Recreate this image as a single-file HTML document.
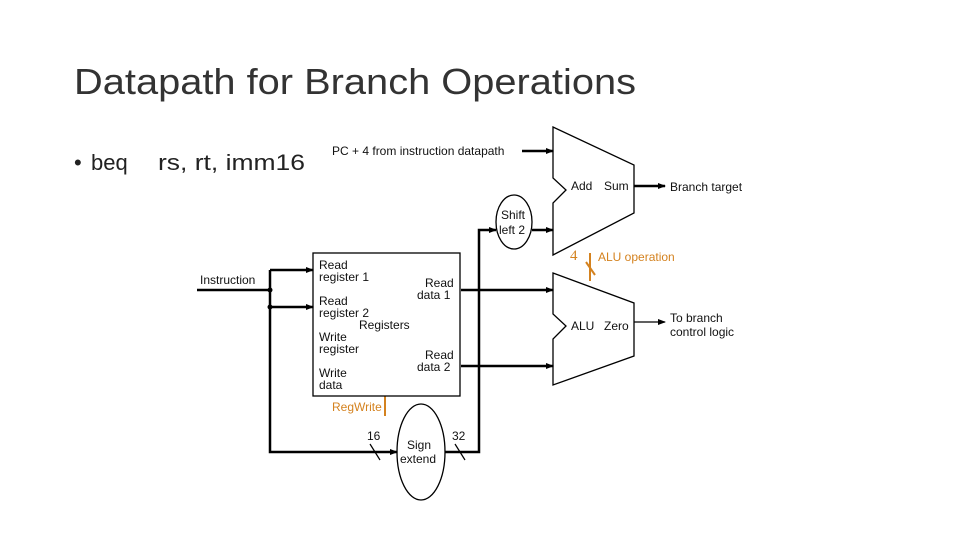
<!DOCTYPE html>
<html><head><meta charset="utf-8"><style>
html,body{margin:0;padding:0;background:#fff;}
svg{display:block;}
</style></head><body>
<svg width="960" height="540" viewBox="0 0 960 540" xmlns="http://www.w3.org/2000/svg" font-family="Liberation Sans, sans-serif">
<defs>
<marker id="a" markerWidth="8" markerHeight="8" refX="7" refY="4" orient="auto" markerUnits="userSpaceOnUse"><path d="M0,1 L8,4 L0,7 z" fill="#000"/></marker>
</defs>
<text x="74" y="94" font-size="36" fill="#333" textLength="562" lengthAdjust="spacingAndGlyphs">Datapath for Branch Operations</text>
<text x="74" y="170" font-size="22" fill="#222">•</text>
<text x="91" y="170" font-size="22" fill="#222">beq</text>
<text x="158" y="170" font-size="22" fill="#222" textLength="147" lengthAdjust="spacingAndGlyphs">rs, rt, imm16</text>

<g font-size="12" fill="#111">
<text x="332" y="155">PC + 4 from instruction datapath</text>
<text x="571" y="190">Add</text><text x="604" y="190">Sum</text>
<text x="670" y="191">Branch target</text>
<text x="571" y="330">ALU</text><text x="604" y="330">Zero</text>
<text x="670" y="322">To branch</text><text x="670" y="336">control logic</text>
<text x="200" y="284">Instruction</text>
<text x="319" y="269">Read</text><text x="319" y="281">register 1</text>
<text x="319" y="305">Read</text><text x="319" y="317">register 2</text>
<text x="359" y="329">Registers</text>
<text x="319" y="341">Write</text><text x="319" y="353">register</text>
<text x="319" y="377">Write</text><text x="319" y="389">data</text>
<text x="425" y="287">Read</text><text x="417" y="299">data 1</text>
<text x="425" y="359">Read</text><text x="417" y="371">data 2</text>
<text x="501" y="219">Shift</text><text x="499" y="234">left 2</text>
<text x="407" y="449">Sign</text><text x="400" y="463">extend</text>
<text x="367" y="440">16</text><text x="452" y="440">32</text>
</g>
<g fill="#d4821f" font-size="12">
<text x="332" y="411">RegWrite</text>
<text x="598" y="261">ALU operation</text>
<text x="570" y="260" font-size="15" font-family="Liberation Serif, serif">4</text>
</g>
<g stroke="#d4821f" stroke-width="2" fill="none">
<line x1="385" y1="396" x2="385" y2="416"/>
<line x1="590" y1="253" x2="590" y2="281"/>
<line x1="586" y1="262" x2="595" y2="275"/>
</g>

<g stroke="#000" fill="none" stroke-width="1.3">
<path d="M553,127 L634,165 L634,213 L553,255 L553,203 L566,190 L553,178 Z"/>
<path d="M553,273 L634,303 L634,356 L553,385 L553,339 L566,326 L553,314 Z"/>
<rect x="313" y="253" width="147" height="143"/>
<ellipse cx="514" cy="222" rx="18" ry="27"/>
<ellipse cx="421" cy="452" rx="24" ry="48"/>
</g>
<g stroke="#000" fill="none" stroke-width="2.5">
<line x1="522" y1="151" x2="553" y2="151" marker-end="url(#a)"/>
<line x1="634" y1="186" x2="665" y2="186" marker-end="url(#a)"/>
<line x1="532" y1="230" x2="553" y2="230" marker-end="url(#a)"/>
<line x1="461" y1="290" x2="553" y2="290" marker-end="url(#a)"/>
<line x1="461" y1="366" x2="553" y2="366" marker-end="url(#a)"/>
<polyline points="197,290 270,290"/>
<polyline points="270,270 270,452 397,452" marker-end="url(#a)"/>
<line x1="270" y1="270" x2="313" y2="270" marker-end="url(#a)"/>
<line x1="270" y1="307" x2="313" y2="307" marker-end="url(#a)"/>
<polyline points="445,452 479,452 479,230 496,230" marker-end="url(#a)"/>
</g>
<line x1="634" y1="322" x2="665" y2="322" stroke="#000" stroke-width="1.3" marker-end="url(#a)"/>
<circle cx="270" cy="290" r="2.5"/><circle cx="270" cy="307" r="2.5"/>
<g stroke="#000" stroke-width="1.2">
<line x1="370" y1="444" x2="380" y2="460"/>
<line x1="455" y1="444" x2="465" y2="460"/>
</g>
</svg>
</body></html>
